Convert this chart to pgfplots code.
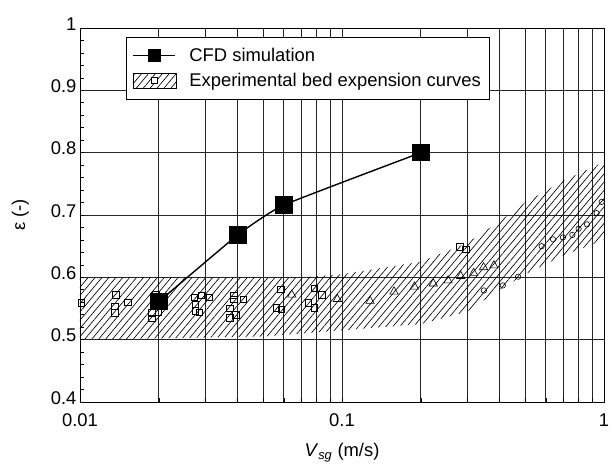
\documentclass[border=0pt]{standalone}
\usepackage{fontspec}
\setmainfont{Liberation Sans}
\usepackage{pgfplots}
\pgfplotsset{compat=1.18}
\usetikzlibrary{patterns.meta}

\tikzset{hatch/.style={pattern={Lines[angle=50,distance=5.3pt,line width=0.65pt]}}}
\newcommand{\chartfont}{\fontsize{18.4}{21}\selectfont}

\begin{document}
\begin{tikzpicture}
\useasboundingbox (-80pt,-63pt) rectangle (536pt,402pt);
\begin{axis}[
    xmode=log,
    scale only axis,
    width=524pt, height=374pt,
    xmin=0.01, xmax=1,
    ymin=0.4, ymax=1,
    xtick={0.01,0.1,1},
    xticklabels={0.01,0.1,1},
    minor xtick={0.02,0.03,0.04,0.05,0.06,0.07,0.08,0.09,0.2,0.3,0.4,0.5,0.6,0.7,0.8,0.9},
    ytick={0.4,0.5,0.6,0.7,0.8,0.9,1},
    minor y tick num=4,
    xtick pos=bottom, ytick pos=left,
    tick align=inside,
    major tick length=4pt, minor tick length=4pt,
    tick style={black, line width=0.6pt},
    xmajorgrids=true, xminorgrids=true, ymajorgrids=true,
    major grid style={black!85, line width=0.75pt},
    minor grid style={black!85, line width=0.75pt},
    axis line style={line width=0.9pt},
    /pgf/number format/assume math mode=true,
    tick label style={font=\chartfont},
    yticklabel style={yshift=4pt},
    xticklabel style={yshift=-8pt},
    label style={font=\chartfont},
    xlabel={\textit{V}\textsubscript{\textit{sg}} (m/s)},
    ylabel={ε (-)},
    xlabel style={at={(axis description cs:0.5,-0.147)}, anchor=base},
    ylabel style={at={(axis description cs:-0.114,0.5)}, anchor=center},
    legend style={at={(rel axis cs:0.088,0.976)}, anchor=north west,
        font=\chartfont, draw=black, line width=0.6pt,
        fill=white, row sep=6pt, inner xsep=6pt, inner ysep=9pt,
        /tikz/every odd column/.append style={column sep=11pt}},
    legend cell align=left,
]

% experimental band
\addplot[draw=none, hatch, forget plot] coordinates {
    (0.01,0.6)(0.07,0.6)(0.1,0.605)(0.2,0.625)(0.3,0.655)(0.4,0.69)
    (0.5,0.72)(0.7,0.755)(1,0.785)
    (1,0.66)(0.7,0.635)(0.5,0.605)(0.4,0.58)(0.3,0.545)(0.2,0.525)
    (0.1,0.515)(0.05,0.505)(0.01,0.5)
} -- cycle;

% experimental points
\addplot[only marks, mark=square, mark size=3.2pt, mark options={fill=white, line width=0.6pt}, forget plot] coordinates {
    (0.0101,0.559)(0.0137,0.572)(0.0136,0.554)(0.0136,0.543)(0.0152,0.560)
    (0.0195,0.572)(0.0188,0.543)(0.0188,0.534)(0.0199,0.544)
    (0.0273,0.568)(0.0291,0.571)(0.0311,0.568)(0.0276,0.557)(0.0275,0.546)(0.0285,0.544)
    (0.0387,0.571)(0.0387,0.565)(0.0419,0.565)(0.0373,0.550)(0.0373,0.535)(0.0394,0.540)
    (0.0585,0.581)(0.0561,0.551)(0.0588,0.549)
    (0.0784,0.582)(0.0838,0.572)(0.0745,0.559)(0.0784,0.551)
    (0.282,0.649)(0.297,0.645)
};
\addplot[only marks, mark=triangle, mark size=4.8pt, mark options={fill=white, line width=0.6pt}, forget plot] coordinates {
    (0.0643,0.572)(0.096,0.565)(0.128,0.562)(0.158,0.577)(0.189,0.585)(0.223,0.590)
    (0.254,0.595)(0.284,0.602)(0.318,0.607)(0.347,0.616)(0.380,0.619)
};
\addplot[only marks, mark=o, mark size=2.7pt, mark options={fill=white, line width=0.6pt}, forget plot] coordinates {
    (0.348,0.579)(0.411,0.587)(0.470,0.601)(0.578,0.650)(0.639,0.661)(0.697,0.664)
    (0.757,0.668)(0.800,0.678)(0.861,0.685)(0.937,0.703)(0.980,0.721)
};

% CFD simulation
\addplot[black, line width=1.4pt, smooth, tension=0.25, mark=square*, mark size=8.3pt, mark options={line width=0pt}, forget plot] coordinates {
    (0.02,0.561)(0.04,0.668)(0.06,0.716)(0.2,0.800)
};

\addlegendimage{legend image code/.code={
    \draw[black, line width=1.4pt] (0pt,0pt) -- (42pt,0pt);
    \fill[black] (15pt,-6pt) rectangle (27pt,6pt);}}
\addlegendentry{CFD simulation}
\addlegendimage{legend image code/.code={
    \draw[black, line width=0.6pt, hatch] (0pt,-7.5pt) rectangle (43pt,7.5pt);
    \draw[black, fill=white, line width=0.5pt] (18.5pt,-3pt) rectangle (24.5pt,3pt);}}
\addlegendentry{Experimental bed expension curves}
\end{axis}
\end{tikzpicture}
\end{document}
